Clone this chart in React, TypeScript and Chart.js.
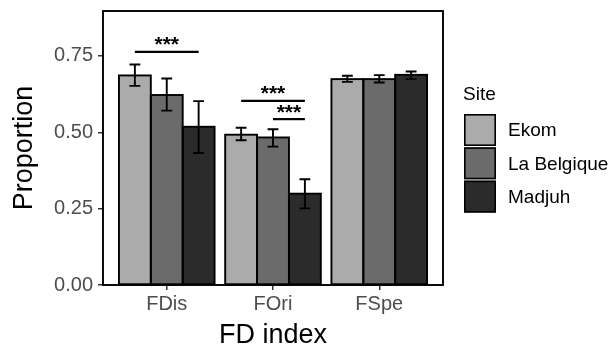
import { useEffect, useRef } from 'react';
import { Chart, registerables } from 'chart.js';

Chart.register(...registerables);

const categories = ['FDis', 'FOri', 'FSpe'];
const categoryPositions = [1, 2, 3];
const sites = ['Ekom', 'La Belgique', 'Madjuh'];
const siteColors = ['#ababab', '#6b6b6b', '#2b2b2b'];

const ekomMean = [0.686, 0.492, 0.674];
const ekomLow = [0.652, 0.474, 0.665];
const ekomHigh = [0.722, 0.515, 0.685];

const belgiqueMean = [0.622, 0.483, 0.674];
const belgiqueLow = [0.571, 0.453, 0.663];
const belgiqueHigh = [0.676, 0.510, 0.687];

const madjuhMean = [0.518, 0.299, 0.688];
const madjuhLow = [0.432, 0.251, 0.674];
const madjuhHigh = [0.602, 0.346, 0.699];

const meanValues = [ekomMean, belgiqueMean, madjuhMean];
const lowValues = [ekomLow, belgiqueLow, madjuhLow];
const highValues = [ekomHigh, belgiqueHigh, madjuhHigh];

const yTicks = [0, 0.25, 0.5, 0.75];

// significance brackets
const bracketCategory = [0, 1, 1];
const bracketFromSite = [0, 0, 1];
const bracketToSite = [2, 2, 2];
const bracketY = [0.763, 0.603, 0.543];
const bracketLabel = ['***', '***', '***'];

const FONT = '"Liberation Sans", Arial, Helvetica, sans-serif';

const overlayPlugin = {
  id: 'overlay',
  afterDatasetsDraw(chart: any) {
    const ctx = chart.ctx;
    const yScale = chart.scales.y;
    ctx.save();
    // bar outlines
    ctx.strokeStyle = '#000';
    ctx.lineWidth = 1.9;
    for (let d = 0; d < sites.length; d++) {
      const meta = chart.getDatasetMeta(d);
      meta.data.forEach((bar: any) => {
        const left = bar.x - bar.width / 2;
        ctx.strokeRect(left, bar.y, bar.width, bar.base - bar.y);
      });
    }
    // error bars
    ctx.lineWidth = 1.9;
    for (let d = 0; d < sites.length; d++) {
      const meta = chart.getDatasetMeta(d);
      meta.data.forEach((bar: any, i: number) => {
        const lo = yScale.getPixelForValue(lowValues[d][i]);
        const hi = yScale.getPixelForValue(highValues[d][i]);
        const hw = bar.width * 0.17;
        ctx.beginPath();
        ctx.moveTo(bar.x, lo);
        ctx.lineTo(bar.x, hi);
        ctx.moveTo(bar.x - hw, lo);
        ctx.lineTo(bar.x + hw, lo);
        ctx.moveTo(bar.x - hw, hi);
        ctx.lineTo(bar.x + hw, hi);
        ctx.stroke();
      });
    }
    // significance brackets
    ctx.lineWidth = 2.2;
    ctx.fillStyle = '#000';
    ctx.font = `bold 21px ${FONT}`;
    ctx.textAlign = 'center';
    ctx.textBaseline = 'alphabetic';
    for (let b = 0; b < bracketY.length; b++) {
      const x1 = chart.getDatasetMeta(bracketFromSite[b]).data[bracketCategory[b]].x;
      const x2 = chart.getDatasetMeta(bracketToSite[b]).data[bracketCategory[b]].x;
      const y = yScale.getPixelForValue(bracketY[b]);
      ctx.beginPath();
      ctx.moveTo(x1, y);
      ctx.lineTo(x2, y);
      ctx.stroke();
      ctx.fillText(bracketLabel[b], (x1 + x2) / 2, y - 0.5);
    }
    ctx.restore();
  },
  afterDraw(chart: any) {
    const ctx = chart.ctx;
    const a = chart.chartArea;
    ctx.save();
    // panel border
    ctx.strokeStyle = '#000';
    ctx.lineWidth = 1.9;
    ctx.strokeRect(a.left, a.top, a.right - a.left, a.bottom - a.top);
    // axis titles
    ctx.fillStyle = '#000';
    ctx.font = `27px ${FONT}`;
    ctx.textAlign = 'center';
    ctx.textBaseline = 'alphabetic';
    ctx.fillText('FD index', (a.left + a.right) / 2, 343);
    ctx.save();
    ctx.translate(32, (a.top + a.bottom) / 2);
    ctx.rotate(-Math.PI / 2);
    ctx.fillText('Proportion', 0, 0);
    ctx.restore();
    // legend
    ctx.textAlign = 'left';
    ctx.font = `19px ${FONT}`;
    ctx.fillText('Site', 463, 100);
    const keyX = 464;
    const keyY0 = 114;
    const keyStep = 33.3;
    const keySize = 32;
    ctx.textBaseline = 'middle';
    for (let s = 0; s < sites.length; s++) {
      const ky = keyY0 + s * keyStep;
      ctx.fillStyle = siteColors[s];
      ctx.fillRect(keyX, ky, keySize, keySize);
      ctx.strokeStyle = '#000';
      ctx.lineWidth = 1.6;
      ctx.strokeRect(keyX + 0.8, ky + 0.8, keySize - 1.6, keySize - 1.6);
      ctx.fillStyle = '#000';
      ctx.fillText(sites[s], 508, ky + keySize / 2 + 1);
    }
    ctx.restore();
  },
};

export default function App() {
  const ref = useRef<HTMLCanvasElement>(null);
  useEffect(() => {
    if (!ref.current) return;
    const chart = new Chart(ref.current, {
      type: 'bar',
      data: {
        datasets: sites.map((s, d) => ({
          label: s,
          data: categoryPositions.map((x, i) => ({ x, y: meanValues[d][i] })),
          backgroundColor: siteColors[d],
          borderWidth: 0,
          categoryPercentage: 0.9,
          barPercentage: 1,
        })),
      },
      options: {
        animation: false,
        responsive: false,
        devicePixelRatio: 1,
        layout: { padding: { top: 11, right: 168, left: 0, bottom: 0 } },
        plugins: { legend: { display: false }, tooltip: { enabled: false } },
        scales: {
          x: {
            type: 'linear',
            min: 0.4,
            max: 3.6,
            offset: false,
            afterBuildTicks: (scale: any) => {
              scale.ticks = categoryPositions.map((v) => ({ value: v }));
            },
            afterFit: (scale: any) => {
              scale.height = 61;
              scale.paddingLeft = 0;
              scale.paddingRight = 0;
            },
            ticks: {
              autoSkip: false,
              maxRotation: 0,
              padding: 2,
              color: '#4d4d4d',
              font: { family: FONT, size: 20 },
              callback: (v: any) => {
                const idx = categoryPositions.indexOf(Number(v));
                return idx >= 0 ? categories[idx] : '';
              },
            },
            grid: {
              display: true,
              drawOnChartArea: false,
              drawTicks: true,
              tickLength: 5,
              color: '#333333',
              lineWidth: 1.5,
              offset: false,
            },
            border: { display: false },
          },
          y: {
            min: 0,
            max: 0.897,
            afterBuildTicks: (scale: any) => {
              scale.ticks = yTicks.map((v) => ({ value: v }));
            },
            afterFit: (scale: any) => {
              scale.width = 103;
              scale.paddingTop = 0;
              scale.paddingBottom = 0;
            },
            ticks: {
              padding: 5,
              color: '#4d4d4d',
              font: { family: FONT, size: 20 },
              callback: (v: any) => Number(v).toFixed(2),
            },
            grid: {
              display: true,
              drawOnChartArea: false,
              drawTicks: true,
              tickLength: 5,
              color: '#333333',
              lineWidth: 1.5,
            },
            border: { display: false },
          },
        },
      },
      plugins: [overlayPlugin],
    });
    return () => chart.destroy();
  }, []);
  return (
    <div style={{ position: 'absolute', left: 0, top: 0, width: 611, height: 346, background: '#fff' }}>
      <canvas ref={ref} width={611} height={346} style={{ width: 611, height: 346, display: 'block' }} />
    </div>
  );
}
